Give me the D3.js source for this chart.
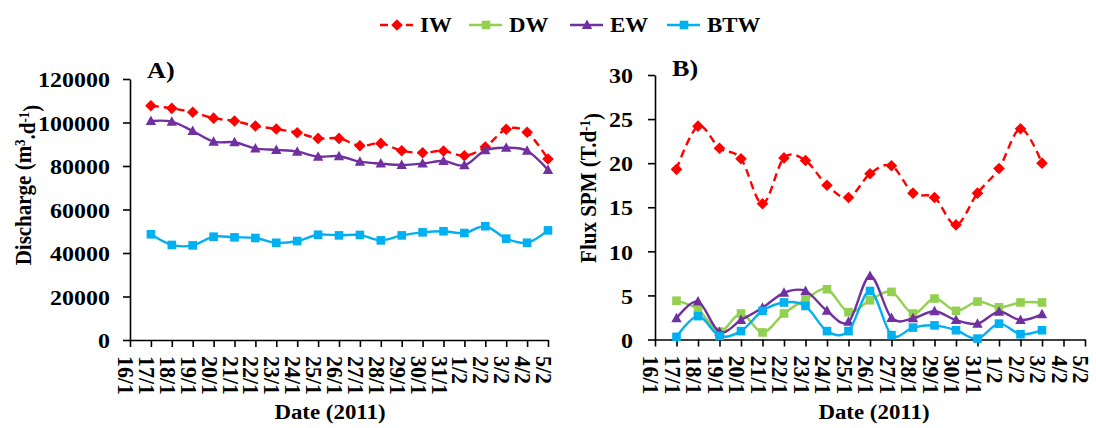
<!DOCTYPE html>
<html><head><meta charset="utf-8">
<script src="https://cdn.jsdelivr.net/npm/d3@7"></script>
<style>
body{margin:0;background:#fff}
svg{display:block}
text{font-family:"Liberation Serif","Times New Roman",serif;font-weight:bold;fill:#000}
</style>
</head><body>
<svg id="c" width="1096" height="428"></svg>
<script>
// ---- data ----
const dates = ["16/1","17/1","18/1","19/1","20/1","21/1","22/1","23/1","24/1","25/1","26/1","27/1","28/1","29/1","30/1","31/1","1/2","2/2","3/2","4/2","5/2"];
const dischargeDates = ["17/1","18/1","19/1","20/1","21/1","22/1","23/1","24/1","25/1","26/1","27/1","28/1","29/1","30/1","31/1","1/2","2/2","3/2","4/2","5/2"];
const fluxDates = ["17/1","18/1","19/1","20/1","21/1","22/1","23/1","24/1","25/1","26/1","27/1","28/1","29/1","30/1","31/1","1/2","2/2","3/2"];

const dischargeIW  = [107700,106500,104700,102000,100700,98400,97000,95300,92700,92700,89300,90400,87000,86100,86900,84700,88700,96900,95500,83200];
const dischargeEW  = [100700,100400,96100,91200,90900,88100,87400,86600,84300,84500,82000,81100,80500,81100,82300,80300,87200,88400,87000,78200];
const dischargeBTW = [48600,43700,43500,47500,47200,46900,44700,45500,48400,48100,48300,45800,48100,49500,50000,49200,52300,46600,44700,50400];

const fluxIW  = [19.3,24.2,21.7,20.5,15.4,20.6,20.3,17.5,16.1,18.8,19.7,16.6,16.1,13.0,16.6,19.4,23.9,20.0];
const fluxDW  = [4.4,3.4,0.9,2.95,0.8,2.95,4.55,5.7,3.1,4.45,5.4,2.95,4.65,3.25,4.3,3.65,4.2,4.2];
const fluxEW  = [2.4,4.3,0.85,2.2,3.6,5.3,5.5,3.25,2.0,7.2,2.45,2.4,3.2,2.2,1.8,3.15,2.2,2.85];
const fluxBTW = [0.3,2.65,0.4,0.95,3.25,4.2,3.8,0.95,0.95,5.5,0.5,1.35,1.6,1.05,0.1,1.8,0.6,1.05];

const dischargeTicks = [0,20000,40000,60000,80000,100000,120000];
const fluxTicks = [0,5,10,15,20,25,30];
const seriesNames = ["IW","DW","EW","BTW"];

// ---- style ----
const colors = {IW:"#ff0000", DW:"#92d050", EW:"#7030a0", BTW:"#00b0f0"};
const markerType = {IW:"diamond", DW:"square", EW:"triangle", BTW:"square"};
const dashes = {IW:"8,5", DW:null, EW:null, BTW:null};
const SX = 1.09; // horizontal stretch of the text in the reference

function markerPath(t){
  if(t==="diamond") return "M0,-5.8L5.8,0L0,5.8L-5.8,0Z";
  if(t==="square") return "M-4.3,-4.3H4.3V4.3H-4.3Z";
  return "M0,-5.5L5.2,4L-5.2,4Z";
}

const svg = d3.select("#c");

function stretchedText(g, x, y, str, size, anchor){
  return g.append("text")
    .attr("transform", `translate(${x},${y}) scale(${SX},1)`)
    .attr("text-anchor", anchor||"start")
    .style("font-size", size+"px")
    .text(str);
}

function drawPanel(cfg){
  const g = svg.append("g");
  const x = d3.scalePoint().domain(dates).range(cfg.xRange);
  const y = d3.scaleLinear().domain(cfg.yDomain).range(cfg.yRange);

  // y axis
  const ya = g.append("g").attr("transform", `translate(${cfg.xRange[0]},0)`)
    .call(d3.axisLeft(y).tickValues(cfg.yTicks).tickSize(7).tickSizeOuter(0).tickFormat(d3.format("d")));
  ya.selectAll("path,line").attr("stroke","#000").attr("stroke-width",1.6);
  ya.selectAll("text").remove();
  ya.selectAll(".tick").each(function(d){
    d3.select(this).append("text")
      .attr("transform", `translate(${cfg.yLabelOffset},0) scale(${SX},1)`)
      .attr("text-anchor","end").attr("dy","0.35em")
      .style("font-size","22px").text(d3.format("d")(d));
  });

  // x axis
  const xa = g.append("g").attr("transform", `translate(0,${cfg.yRange[0]})`)
    .call(d3.axisBottom(x).tickSize(7).tickSizeOuter(0));
  xa.selectAll("path,line").attr("stroke","#000").attr("stroke-width",1.6);
  xa.selectAll("text").remove();
  xa.selectAll(".tick").each(function(d){
    d3.select(this).append("text")
      .attr("transform", `translate(-4,16) rotate(90) scale(1,${SX})`)
      .attr("text-anchor","start").attr("dy","0.35em")
      .style("font-size","22px").text(d);
  });

  // series
  const line = d3.line().x(d=>x(d[0])).y(d=>y(d[1])).curve(d3.curveCatmullRom.alpha(0));
  cfg.series.forEach(s=>{
    const pts = s.dates.map((dt,i)=>[dt, s.values[i]]);
    g.append("path").datum(pts)
      .attr("d", line).attr("fill","none")
      .attr("stroke", colors[s.name]).attr("stroke-width",2.4)
      .attr("stroke-dasharray", dashes[s.name]);
    g.selectAll(null).data(pts).enter().append("path")
      .attr("transform", d=>`translate(${x(d[0])},${y(d[1])})`)
      .attr("d", markerPath(markerType[s.name]))
      .attr("fill", colors[s.name]);
  });

  // panel label
  stretchedText(g, cfg.labelPos[0], cfg.labelPos[1], cfg.label, 24);
  // x title
  stretchedText(g, cfg.xTitlePos[0], cfg.xTitlePos[1], "Date (2011)", 21, "middle");
  // y title
  const yt = g.append("text")
    .attr("transform", `translate(${cfg.yTitlePos[0]},${cfg.yTitlePos[1]}) rotate(-90) scale(1,${SX})`)
    .attr("text-anchor","middle").style("font-size","21px");
  cfg.yTitle.forEach(p=>{
    const t = yt.append("tspan").text(p.t);
    if(p.sup){ t.attr("dy","-0.45em").style("font-size","13px"); }
    else if(p.after){ t.attr("dy","0.45em"); }
  });
}

drawPanel({
  xRange:[130,548], yDomain:[0,120000], yRange:[340,79], yTicks:dischargeTicks, yLabelOffset:-20,
  label:"A)", labelPos:[147,78], xTitlePos:[330,419], yTitlePos:[31,185],
  yTitle:[{t:"Discharge (m"},{t:"3",sup:true},{t:".d",after:true},{t:"-1",sup:true},{t:")",after:true}],
  series:[
    {name:"IW", dates:dischargeDates, values:dischargeIW},
    {name:"EW", dates:dischargeDates, values:dischargeEW},
    {name:"BTW", dates:dischargeDates, values:dischargeBTW}
  ]
});

drawPanel({
  xRange:[655,1085], yDomain:[0,30], yRange:[339.5,75], yTicks:fluxTicks, yLabelOffset:-22,
  label:"B)", labelPos:[672,76], xTitlePos:[874,419], yTitlePos:[596,188],
  yTitle:[{t:"Flux SPM (T.d"},{t:"-1",sup:true},{t:")",after:true}],
  series:[
    {name:"IW", dates:fluxDates, values:fluxIW},
    {name:"DW", dates:fluxDates, values:fluxDW},
    {name:"EW", dates:fluxDates, values:fluxEW},
    {name:"BTW", dates:fluxDates, values:fluxBTW}
  ]
});

// legend
const legendX = {IW:380, DW:469, EW:570, BTW:667};
const lg = svg.append("g");
seriesNames.forEach(n=>{
  const x0 = legendX[n];
  lg.append("line").attr("x1",x0).attr("x2",x0+33).attr("y1",25).attr("y2",25)
    .attr("stroke",colors[n]).attr("stroke-width",2.4).attr("stroke-dasharray",dashes[n]);
  lg.append("path").attr("transform",`translate(${x0+17},25)`)
    .attr("d",markerPath(markerType[n])).attr("fill",colors[n]);
  stretchedText(lg, x0+40, 32, n, 21);
});
</script>
</body></html>
